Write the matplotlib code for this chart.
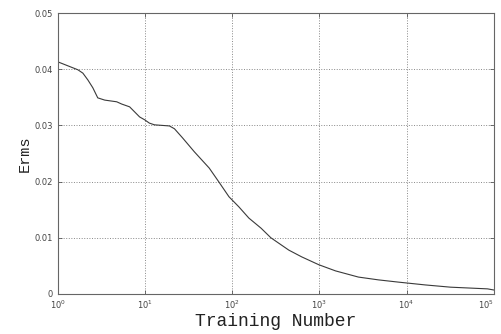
import matplotlib
matplotlib.use("Agg")
import matplotlib.pyplot as plt

# training-error curve
training_number = [1, 1.30, 1.69, 1.93, 2.20, 2.51, 2.86, 3.44, 4.72, 5.38, 6.64,
                   7.58, 8.65, 9.86, 11.2, 12.8, 19.0, 21.7, 26.8, 36.7, 54.4,
                   70.4, 91.6, 119, 155, 214, 277, 445, 625, 982, 1530, 2800,
                   4750, 8070, 16400, 32000, 85000, 100000]
erms = [0.0413, 0.0406, 0.0399, 0.0393, 0.0381, 0.0367, 0.0349, 0.0345, 0.0342,
        0.0338, 0.0333, 0.0324, 0.0315, 0.0310, 0.0304, 0.0301, 0.0299, 0.0294,
        0.0278, 0.0253, 0.0224, 0.0199, 0.0173, 0.0155, 0.0135, 0.0117, 0.0100,
        0.0078, 0.0066, 0.0052, 0.0041, 0.0030, 0.0025, 0.0021, 0.0016, 0.0012,
        0.0009, 0.0007]

y_ticks = [0, 0.01, 0.02, 0.03, 0.04, 0.05]
y_ticklabels = ["0", "0.01", "0.02", "0.03", "0.04", "0.05"]
x_ticks = [1e0, 1e1, 1e2, 1e3, 1e4, 1e5]
x_ticklabels = [r"$10^{%d}$" % i for i in range(6)]

fig = plt.figure(figsize=(5.02, 3.34), dpi=100)
ax = fig.add_axes([0.1155, 0.12, 0.868, 0.841])

ax.plot(training_number, erms, color="#3a3a3a", linewidth=0.8)

ax.set_xscale("log")
ax.set_xlim(1, 1e5)
ax.set_ylim(0, 0.05)
ax.set_xticks(x_ticks)
ax.set_xticklabels(x_ticklabels)
ax.set_yticks(y_ticks)
ax.set_yticklabels(y_ticklabels)
ax.minorticks_off()
ax.tick_params(direction="in", length=3, width=0.6, colors="#555555",
               labelsize=6, top=True, right=True, labelcolor="#444444")
# keep the last decade label inside the canvas
ax.get_xticklabels()[-1].set_horizontalalignment("right")

ax.grid(True, linestyle=":", linewidth=0.7, color="#888888")
for s in ax.spines.values():
    s.set_color("#666666")
    s.set_linewidth(0.8)

ax.set_xlabel("Training Number", fontsize=13, family="Liberation Mono",
              labelpad=1, color="#222222")
ax.set_ylabel("Erms", fontsize=11, family="Liberation Mono",
              labelpad=2, color="#222222")

fig.savefig("out.png", dpi=100)
